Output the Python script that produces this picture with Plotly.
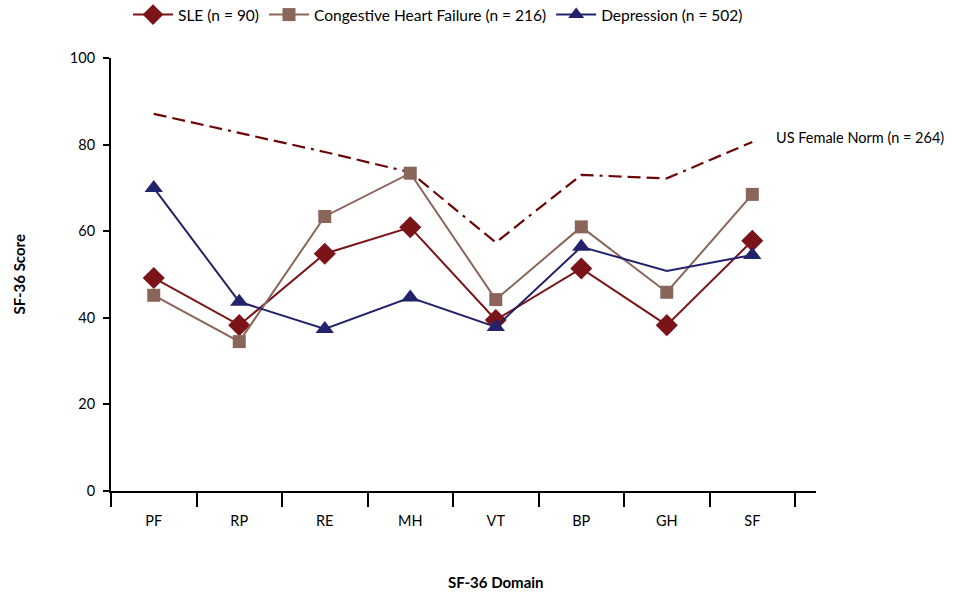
import plotly.graph_objects as go

domains = ["PF", "RP", "RE", "MH", "VT", "BP", "GH", "SF"]
sle = [49.2, 38.3, 54.8, 60.9, 39.5, 51.4, 38.3, 57.8]
chf = [45.2, 34.5, 63.4, 73.4, 44.2, 61.0, 45.9, 68.5]
dep = [70.0, 43.7, 37.4, 44.7, 37.9, 56.4, 50.8, 54.5]
norm = [87.1, 82.7, 78.3, 73.6, 57.4, 73.0, 72.2, 80.6]
dep_marker_shown = [1, 1, 1, 1, 1, 1, 0, 1]

FONT = "Lato"
W, H = 953, 593
L, T, R, B = 111, 58, 137, 102
PW, PH = W - L - R, H - T - B

fig = go.Figure()

fig.add_trace(go.Scatter(
    x=domains, y=norm, mode="lines", showlegend=False,
    line=dict(color="#6B0707", width=2.2,
              dash="13px,6px,13px,6px,13px,6px,13px,6px,3px,6px"),
))
fig.add_trace(go.Scatter(
    x=domains, y=sle, mode="lines+markers", name="SLE (n = 90)",
    line=dict(color="#7B1419", width=2),
    marker=dict(symbol="diamond", size=17, color="#7B1419", opacity=1),
))
fig.add_trace(go.Scatter(
    x=domains, y=chf, mode="lines+markers", name="Congestive Heart Failure (n = 216)",
    line=dict(color="#8A665A", width=2),
    marker=dict(symbol="square", size=13, color="#8A665A", opacity=1),
))
fig.add_trace(go.Scatter(
    x=domains, y=dep, mode="lines+markers", name="Depression (n = 502)",
    line=dict(color="#23236B", width=2),
    marker=dict(symbol="triangle-up", size=[16 * s for s in dep_marker_shown],
                color="#23236B", opacity=1, line=dict(width=0)),
))

fig.add_annotation(x=7.25, y=81.7, xref="x", yref="y", text="US Female Norm (n = 264)",
                   showarrow=False, xanchor="left", yanchor="middle",
                   font=dict(family=FONT, size=14.5, color="#000000"))
fig.add_annotation(x=(18 - L) / PW, y=0.5, xref="paper", yref="paper", text="<b>SF-36 Score</b>",
                   showarrow=False, textangle=-90, xanchor="center", yanchor="middle",
                   font=dict(family=FONT, size=15, color="#000000"))
fig.add_annotation(x=(496 - L) / PW, y=-(582 - (T + PH)) / PH, xref="paper", yref="paper",
                   text="<b>SF-36 Domain</b>",
                   showarrow=False, xanchor="center", yanchor="middle",
                   font=dict(family=FONT, size=15, color="#000000"))

fig.update_layout(
    width=W, height=H,
    margin=dict(l=L, r=R, t=T, b=B, autoexpand=False),
    paper_bgcolor="white", plot_bgcolor="white",
    font=dict(family=FONT, size=14, color="#000000"),
    legend=dict(orientation="h", x=438 / W, y=1 - 15 / H, xref="container", yref="container",
                xanchor="center", yanchor="middle",
                font=dict(family=FONT, size=15.5), itemwidth=40, bgcolor="rgba(0,0,0,0)"),
    xaxis=dict(type="category", range=[-0.5, 7.745], tickson="boundaries",
               showline=True, linecolor="#000000", linewidth=2, automargin=False,
               ticks="outside", ticklen=14, tickwidth=2, tickcolor="#000000",
               showgrid=False, zeroline=False, ticklabelstandoff=16,
               tickfont=dict(family=FONT, size=14.5)),
    yaxis=dict(range=[0, 100], tickvals=[0, 20, 40, 60, 80, 100],
               showline=True, linecolor="#000000", linewidth=2, automargin=False,
               ticks="outside", ticklen=6, tickwidth=2, tickcolor="#000000",
               showgrid=False, zeroline=False, ticklabelstandoff=5,
               tickfont=dict(family=FONT, size=14.5)),
)

fig.write_html("out.html", config={"displayModeBar": False},
               post_script="document.body.style.margin='0';document.body.style.overflow='hidden';")
